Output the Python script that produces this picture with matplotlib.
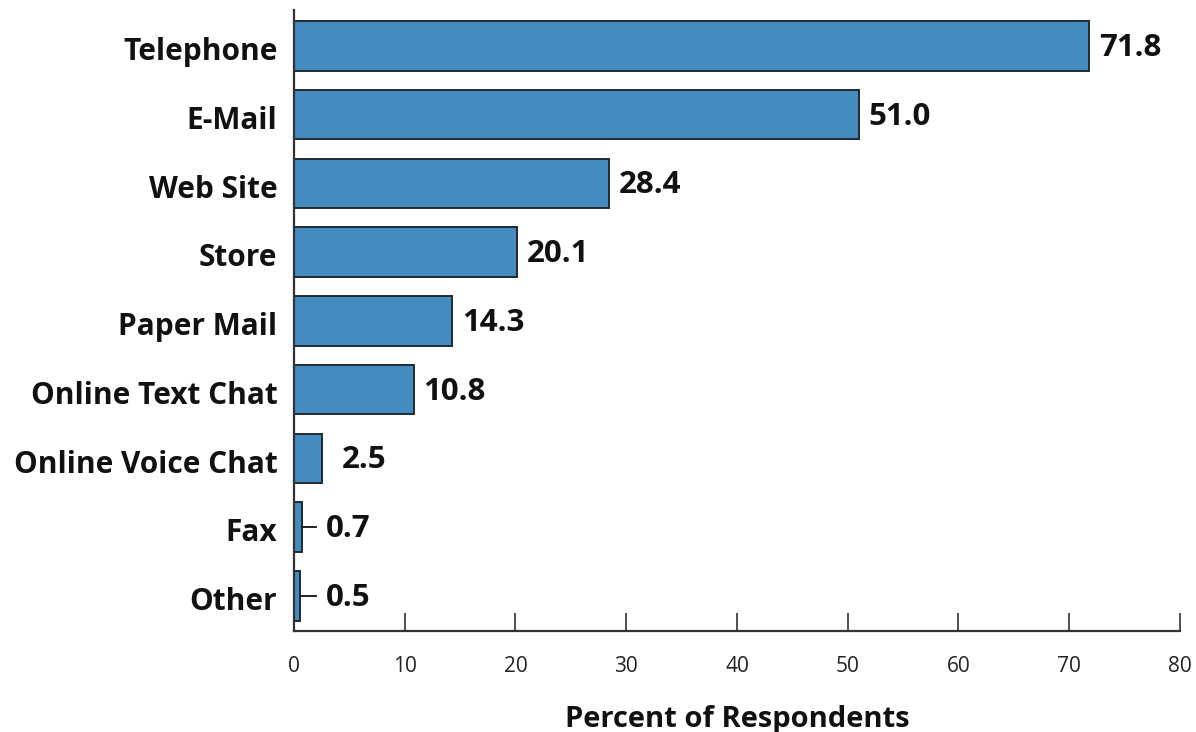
import numpy as np
import matplotlib
matplotlib.use("Agg")
import matplotlib.pyplot as plt

# ---------------------------------------------------------------------------
#  Data (percent of respondents by contact channel)
# ---------------------------------------------------------------------------
channels = ["Telephone", "E-Mail", "Web Site", "Store", "Paper Mail",
            "Online Text Chat", "Online Voice Chat", "Fax", "Other"]
percent = [71.8, 51.0, 28.4, 20.1, 14.3, 10.8, 2.5, 0.7, 0.5]
xticks = [0, 10, 20, 30, 40, 50, 60, 70, 80]

bar_color = "#448bbf"
ink = "#111111"
font = "Open Sans"

fig = plt.figure(figsize=(11.96, 7.32), dpi=100)
ax = fig.add_axes([0.2458, 0.138, 0.9866 - 0.2458, 0.9863 - 0.138])

y = np.arange(len(channels))
ax.barh(y, percent, height=0.72, color=bar_color, edgecolor="#1e2a33", lw=1.4)

for yi, v in zip(y, percent):
    if v < 1:
        # tiny bars get a short leader line
        ax.plot([v, 2.0], [yi, yi], color=ink, lw=1.3)
        tx = 2.9
    elif v < 5:
        tx = v + 1.8
    else:
        tx = v + 0.9
    ax.text(tx, yi + 0.03, f"{v:.1f}", va="center", ha="left", fontsize=22.5,
            fontweight="bold", color=ink, family=font)

ax.set_xlim(0, 80)
ax.set_ylim(len(channels) - 0.49, -0.52)
ax.set_yticks(y + 0.04)
ax.set_yticklabels(channels, fontsize=21.5, fontweight="bold", color=ink, family=font)
ax.set_xticks(xticks)
ax.set_xticklabels([str(t) for t in xticks], fontsize=15, color="#222222",
                   family=font)

ax.tick_params(axis="y", length=0, pad=12)
ax.tick_params(axis="x", direction="in", length=13, width=1.1, color="#222222", pad=18)

for side in ["top", "right"]:
    ax.spines[side].set_visible(False)
for side in ["left", "bottom"]:
    ax.spines[side].set_color("#333333")
    ax.spines[side].set_linewidth(1.6)

ax.set_xlabel("Percent of Respondents", fontsize=21, fontweight="bold",
              color=ink, family=font, labelpad=20)

fig.savefig("out.png", dpi=100)
